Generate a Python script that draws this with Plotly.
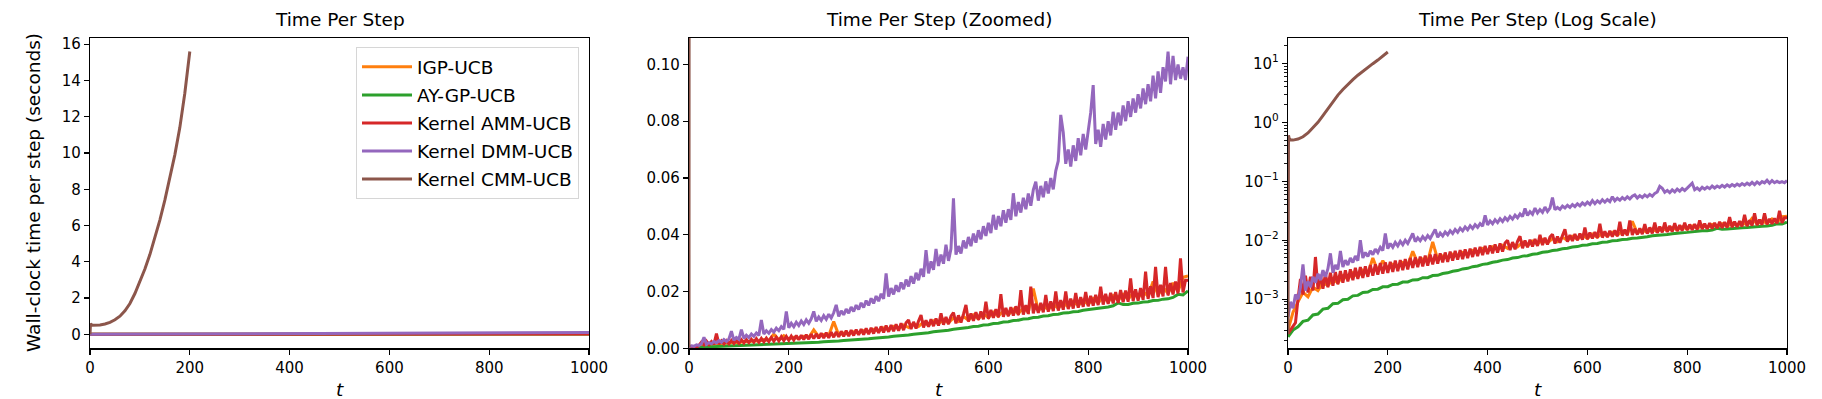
import plotly.graph_objects as go

# ---------------- data ----------------
SERIES_NAMES = ["IGP-UCB", "AY-GP-UCB", "Kernel AMM-UCB", "Kernel DMM-UCB", "Kernel CMM-UCB"]
SERIES_COLORS = ["#ff7f0e", "#2ca02c", "#d62728", "#9467bd", "#8c564b"]

T_STEPS_10 = list(range(0, 1001, 10))
T_STEPS_5 = list(range(0, 1001, 5))

IGP_UCB = [
    0.00030, 0.00060, 0.0009, 0.0013, 0.0011, 0.0016, 0.0014, 0.0019, 0.0017, 0.0022,
    0.0019, 0.0025, 0.0022, 0.0028, 0.0024, 0.0031, 0.0027, 0.0050, 0.0030, 0.0045,
    0.0033, 0.0039, 0.0035, 0.0042, 0.0038, 0.0065, 0.0041, 0.0048, 0.0044, 0.0094,
    0.0047, 0.0054, 0.0050, 0.0058, 0.0053, 0.0062, 0.0057, 0.0067, 0.0061, 0.0072,
    0.0065, 0.0077, 0.0069, 0.0082, 0.0073, 0.0087, 0.0077, 0.0092, 0.0081, 0.0097,
    0.0086, 0.0102, 0.0090, 0.0107, 0.0095, 0.0112, 0.0099, 0.0117, 0.0104, 0.0122,
    0.0108, 0.0127, 0.0113, 0.0132, 0.0118, 0.0137, 0.0122, 0.0142, 0.0127, 0.0210,
    0.0132, 0.0150, 0.0137, 0.0155, 0.0141, 0.0160, 0.0146, 0.0165, 0.0150, 0.0170,
    0.0155, 0.0175, 0.0160, 0.0180, 0.0164, 0.0185, 0.0169, 0.0190, 0.0173, 0.0195,
    0.0178, 0.0200, 0.0183, 0.0235, 0.0188, 0.0215, 0.0193, 0.0230, 0.0200, 0.0250,
    0.0255,
]

AY_GP_UCB = [
    0.00023, 0.00030, 0.00034, 0.00042, 0.00044, 0.00054, 0.00056, 0.00068, 0.00070, 0.00084,
    0.00085, 0.00098, 0.00100, 0.00114, 0.00116, 0.00130, 0.00132, 0.00146, 0.00148, 0.00162,
    0.00163, 0.00178, 0.00180, 0.00195, 0.00196, 0.00212, 0.00213, 0.00232, 0.00232, 0.00252,
    0.00254, 0.00272, 0.00280, 0.00298, 0.00306, 0.00326, 0.00334, 0.00356, 0.00366, 0.00390,
    0.00400, 0.00424, 0.00435, 0.00460, 0.00470, 0.00498, 0.00508, 0.00538, 0.00548, 0.00580,
    0.00592, 0.00624, 0.00636, 0.00670, 0.00682, 0.00718, 0.00730, 0.00768, 0.00780, 0.00820,
    0.00832, 0.00872, 0.00884, 0.00925, 0.00936, 0.00978, 0.00990, 0.01032, 0.01042, 0.01085,
    0.01095, 0.01138, 0.01148, 0.01190, 0.01198, 0.01240, 0.01248, 0.01290, 0.01296, 0.01338,
    0.01360, 0.01400, 0.01410, 0.01450, 0.01456, 0.01496, 0.01600, 0.01540, 0.01546, 0.01586,
    0.01592, 0.01632, 0.01638, 0.01680, 0.01688, 0.01732, 0.01742, 0.01790, 0.01900, 0.01880,
    0.02020,
]

AMM_UCB = [
    0.00026, 0.00030, 0.00035, 0.00040, 0.0010, 0.0022, 0.0012, 0.0025, 0.0013, 0.0024,
    0.0014, 0.0052, 0.0015, 0.0026, 0.0015, 0.0027, 0.0016, 0.0028, 0.0017, 0.0029,
    0.0018, 0.0030, 0.0019, 0.0031, 0.0020, 0.0032, 0.0021, 0.0034, 0.0022, 0.0035,
    0.0023, 0.0036, 0.0024, 0.0038, 0.0025, 0.0039, 0.0026, 0.0041, 0.0027, 0.0042,
    0.0028, 0.0043, 0.0029, 0.0045, 0.0030, 0.0046, 0.0031, 0.0048, 0.0032, 0.0050,
    0.0034, 0.0051, 0.0035, 0.0053, 0.0036, 0.0055, 0.0037, 0.0057, 0.0039, 0.0058,
    0.0040, 0.0060, 0.0042, 0.0062, 0.0043, 0.0064, 0.0045, 0.0066, 0.0047, 0.0068,
    0.0048, 0.0070, 0.0050, 0.0072, 0.0052, 0.0075, 0.0054, 0.0077, 0.0056, 0.0080,
    0.0058, 0.0082, 0.0060, 0.0085, 0.0062, 0.0088, 0.0064, 0.0090, 0.0100, 0.0068,
    0.0093, 0.0070, 0.0096, 0.0117, 0.0073, 0.0099, 0.0076, 0.0102, 0.0078, 0.0105,
    0.0080, 0.0123, 0.0083, 0.0110, 0.0085, 0.0113, 0.0126, 0.0088, 0.0116, 0.0091,
    0.0120, 0.0153, 0.0094, 0.0123, 0.0097, 0.0127, 0.0100, 0.0130, 0.0102, 0.0164,
    0.0104, 0.0135, 0.0107, 0.0138, 0.0109, 0.0191, 0.0111, 0.0142, 0.0113, 0.0145,
    0.0115, 0.0148, 0.0117, 0.0205, 0.0119, 0.0152, 0.0121, 0.0217, 0.0123, 0.0157,
    0.0125, 0.0160, 0.0127, 0.0188, 0.0129, 0.0165, 0.0131, 0.0200, 0.0133, 0.0170,
    0.0136, 0.0200, 0.0138, 0.0175, 0.0140, 0.0195, 0.0143, 0.0180, 0.0146, 0.0198,
    0.0148, 0.0185, 0.0150, 0.0188, 0.0152, 0.0217, 0.0154, 0.0192, 0.0156, 0.0195,
    0.0158, 0.0198, 0.0160, 0.0205, 0.0162, 0.0203, 0.0164, 0.0246, 0.0166, 0.0208,
    0.0168, 0.0212, 0.0171, 0.0270, 0.0174, 0.0218, 0.0177, 0.0287, 0.0180, 0.0224,
    0.0183, 0.0287, 0.0186, 0.0230, 0.0190, 0.0235, 0.0193, 0.0317, 0.0197, 0.0240,
    0.0240,
]

DMM_UCB = [
    0.0005, 0.0009, 0.0007, 0.0012, 0.0010, 0.0016, 0.0039, 0.0014, 0.0020, 0.0016,
    0.0024, 0.0019, 0.0027, 0.0021, 0.0031, 0.0024, 0.0033, 0.0060, 0.0028, 0.0038,
    0.0032, 0.0066, 0.0035, 0.0046, 0.0038, 0.0050, 0.0042, 0.0054, 0.0045, 0.0100,
    0.0050, 0.0062, 0.0053, 0.0066, 0.0057, 0.0071, 0.0062, 0.0076, 0.0067, 0.0130,
    0.0072, 0.0088, 0.0076, 0.0092, 0.0080, 0.0096, 0.0084, 0.0100, 0.0088, 0.0104,
    0.0130, 0.0095, 0.0110, 0.0098, 0.0115, 0.0102, 0.0120, 0.0107, 0.0125, 0.0153,
    0.0112, 0.0132, 0.0118, 0.0138, 0.0124, 0.0145, 0.0130, 0.0152, 0.0137, 0.0160,
    0.0144, 0.0168, 0.0151, 0.0176, 0.0158, 0.0184, 0.0166, 0.0192, 0.0174, 0.0264,
    0.0182, 0.0212, 0.0190, 0.0222, 0.0199, 0.0232, 0.0208, 0.0242, 0.0218, 0.0254,
    0.0228, 0.0266, 0.0240, 0.0280, 0.0252, 0.0346, 0.0264, 0.0306, 0.0276, 0.0350,
    0.0290, 0.0330, 0.0298, 0.0365, 0.0308, 0.0350, 0.0528, 0.0330, 0.0360, 0.0334,
    0.0380, 0.0352, 0.0392, 0.0360, 0.0404, 0.0372, 0.0416, 0.0384, 0.0430, 0.0396,
    0.0442, 0.0406, 0.0470, 0.0418, 0.0466, 0.0430, 0.0486, 0.0442, 0.0490, 0.0452,
    0.0546, 0.0465, 0.0515, 0.0478, 0.0530, 0.0490, 0.0545, 0.0502, 0.0558, 0.0587,
    0.0520, 0.0572, 0.0532, 0.0588, 0.0545, 0.0600, 0.0560, 0.0625, 0.0660, 0.0822,
    0.0760, 0.0650, 0.0700, 0.0640, 0.0715, 0.0660, 0.0740, 0.0680, 0.0755, 0.0700,
    0.0765, 0.0830, 0.0927, 0.0720, 0.0770, 0.0710, 0.0790, 0.0735, 0.0800, 0.0750,
    0.0833, 0.0770, 0.0830, 0.0785, 0.0855, 0.0800, 0.0870, 0.0815, 0.0880, 0.0830,
    0.0895, 0.0845, 0.0915, 0.0860, 0.0930, 0.0870, 0.0960, 0.0880, 0.0975, 0.0900,
    0.0990, 0.0940, 0.1045, 0.0930, 0.1030, 0.0945, 0.1000, 0.0950, 0.0990, 0.0945,
    0.1027,
]

CMM_T = [0, 1, 2, 5, 10, 20, 30, 40, 50, 60, 70, 80, 90, 100, 110, 120, 130, 140, 150,
         160, 170, 180, 190, 200]
CMM_UCB = [0.00026, 0.60, 0.55, 0.50, 0.50, 0.52, 0.57, 0.66, 0.80, 1.00, 1.30, 1.70,
           2.25, 2.90, 3.60, 4.40, 5.30, 6.30, 7.40, 8.60, 9.90, 11.4, 13.3, 15.6]

PANEL_TITLES = ["Time Per Step", "Time Per Step (Zoomed)", "Time Per Step (Log Scale)"]
Y_LABEL = "Wall-clock time per step (seconds)"
X_LABEL = "t"
X_TICKS = [0, 200, 400, 600, 800, 1000]
Y1_TICKS = [0, 2, 4, 6, 8, 10, 12, 14, 16]
Y2_TICKS = [0.00, 0.02, 0.04, 0.06, 0.08, 0.10]
Y3_TICKS = [1e-3, 1e-2, 1e-1, 1e0, 1e1]
Y3_TICKTEXT = ["10<sup>\u22123</sup>", "10<sup>\u22122</sup>", "10<sup>\u22121</sup>",
               "10<sup>0</sup>", "10<sup>1</sup>"]

# ---------------- figure ----------------
W, H = 1822, 399
FONT = "DejaVu Sans"
px_x = [(90, 589), (689, 1188), (1288, 1787)]
top_px, bot_px = 37.7, 348.3
ydom = [(H - bot_px) / H, (H - top_px) / H]

series_x = [T_STEPS_10, T_STEPS_10, T_STEPS_5, T_STEPS_5, CMM_T]
series_y = [IGP_UCB, AY_GP_UCB, AMM_UCB, DMM_UCB, CMM_UCB]

fig = go.Figure()
for p in range(3):
    xa = "x" if p == 0 else f"x{p+1}"
    ya = "y" if p == 0 else f"y{p+1}"
    for i in range(5):
        fig.add_trace(go.Scatter(
            x=series_x[i], y=series_y[i], mode="lines", name=SERIES_NAMES[i],
            line=dict(color=SERIES_COLORS[i], width=3),
            xaxis=xa, yaxis=ya, showlegend=(p == 0), legendrank=i,
            legendgroup=SERIES_NAMES[i], hoverinfo="skip",
        ))

axis_common = dict(
    showline=True, linecolor="black", linewidth=1.2, mirror=True,
    ticks="outside", ticklen=5, tickwidth=1.2, tickcolor="black",
    showgrid=False, zeroline=False, automargin=False,
    tickfont=dict(family=FONT, size=15, color="black"),
)

lay = dict(
    template="none",
    width=W, height=H, autosize=False,
    margin=dict(l=0, r=0, t=0, b=0, pad=0),
    paper_bgcolor="white", plot_bgcolor="white",
    font=dict(family=FONT, color="black"),
    hovermode=False,
    legend=dict(
        x=579 / W, y=(H - 47.3) / H, xanchor="right", yanchor="top",
        bgcolor="rgba(255,255,255,0.8)", bordercolor="#d6d6d6", borderwidth=1,
        font=dict(family=FONT, size=18.5, color="black"),
        tracegroupgap=1, itemwidth=50,
    ),
)

for p in range(3):
    sx = "" if p == 0 else str(p + 1)
    x0, x1 = px_x[p]
    lay[f"xaxis{sx}"] = dict(
        axis_common, domain=[x0 / W, x1 / W], range=[0, 1000],
        tickvals=X_TICKS, anchor=f"y{sx}",
    )

lay["yaxis"] = dict(axis_common, domain=ydom, range=[-0.77, 16.36],
                    tickvals=Y1_TICKS, anchor="x")
lay["yaxis2"] = dict(axis_common, domain=ydom, range=[0, 0.1094],
                     tickvals=Y2_TICKS, tickformat=".2f", anchor="x2")
minor_vals = [m * 10 ** e for e in range(-4, 2) for m in range(2, 10)]
lay["yaxis3"] = dict(axis_common, domain=ydom, type="log", range=[-3.833, 1.436],
                     tickvals=Y3_TICKS, ticktext=Y3_TICKTEXT, anchor="x3",
                     minor=dict(tickvals=minor_vals, ticks="outside", ticklen=3,
                                tickwidth=0.9, tickcolor="black", showgrid=False))
fig.update_layout(**lay)

ann = []
for p in range(3):
    x0, x1 = px_x[p]
    cx = (x0 + x1) / 2 / W
    ann.append(dict(text=PANEL_TITLES[p], x=cx, y=(H - 19) / H, xref="paper", yref="paper",
                    xanchor="center", yanchor="middle", showarrow=False,
                    font=dict(family=FONT, size=18.5, color="black")))
    ann.append(dict(text=f"<i>{X_LABEL}</i>", x=cx, y=(H - 389) / H, xref="paper", yref="paper",
                    xanchor="center", yanchor="middle", showarrow=False,
                    font=dict(family=FONT, size=18.5, color="black")))
ann.append(dict(text=Y_LABEL, x=33 / W, y=(H - 193) / H, xref="paper", yref="paper",
                xanchor="center", yanchor="middle", textangle=-90, showarrow=False,
                font=dict(family=FONT, size=18.5, color="black")))
fig.update_layout(annotations=ann)

fig.write_html(
    "out.html",
    config={"displayModeBar": False, "staticPlot": True},
    post_script="document.documentElement.style.margin='0px';"
                "document.body.style.margin='0px';document.body.style.padding='0px';"
                "document.body.style.overflow='hidden';",
)
